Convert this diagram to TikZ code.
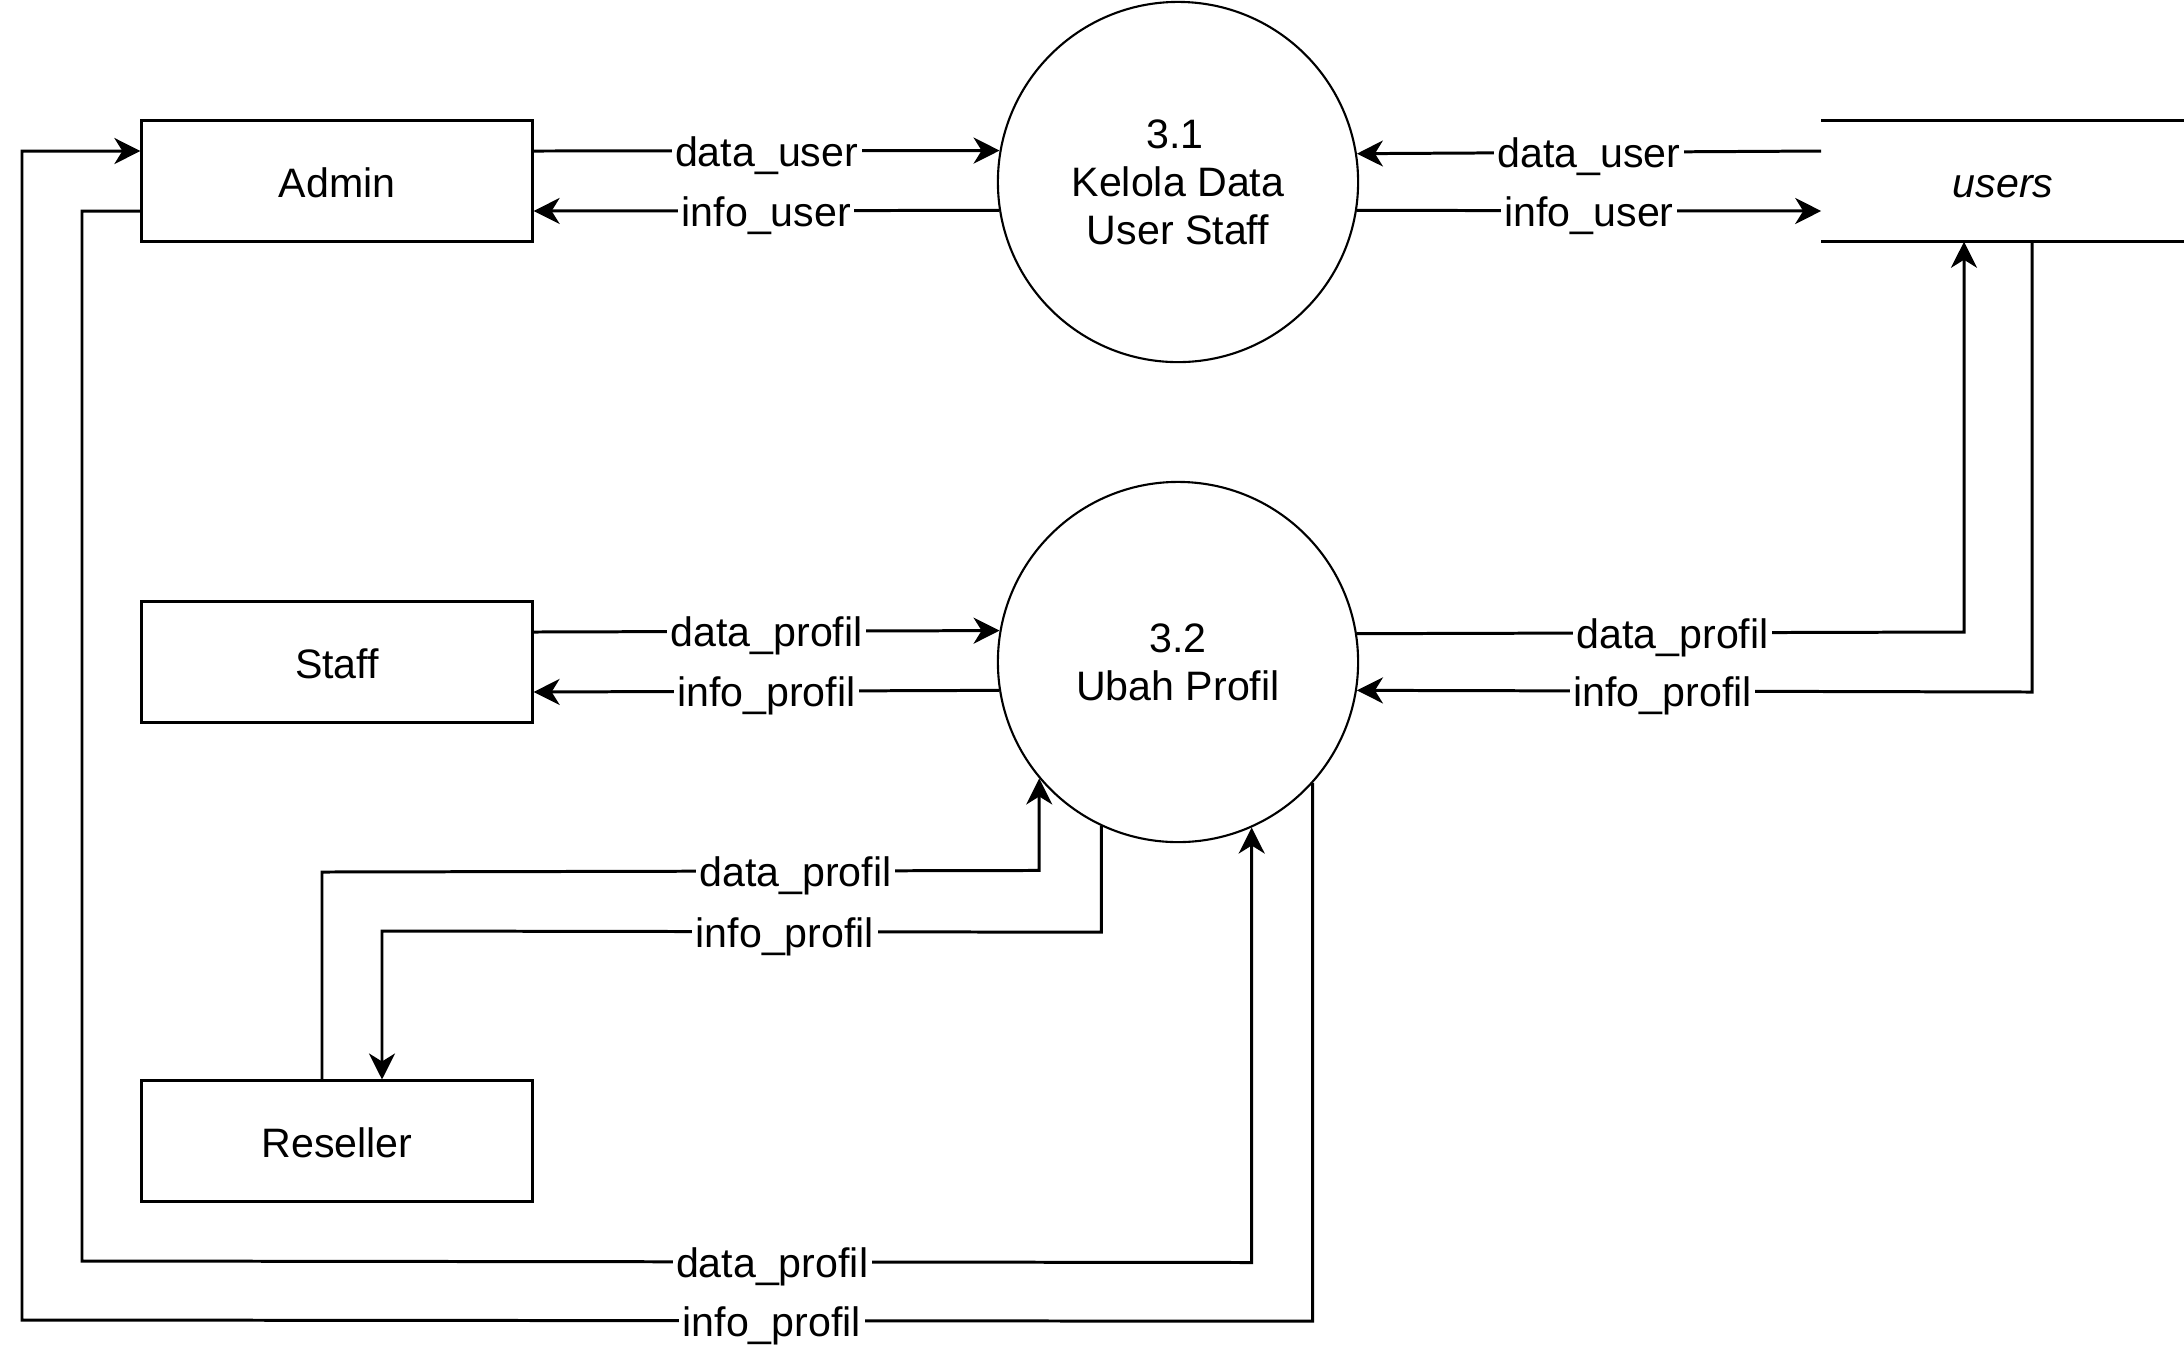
\documentclass[tikz,border=0pt]{standalone}
\usepackage{fontspec}
\setmainfont{Liberation Sans}
\usetikzlibrary{arrows.meta,calc}
\begin{document}
\begin{tikzpicture}[x=0.01cm,y=-0.01cm,
  every node/.style={font=\fontsize{11.7pt}{13.7pt}\selectfont},
  entity/.style={draw,line width=0.85pt,minimum width=3.9cm,minimum height=1.2cm,inner sep=0pt,text height=0.33cm,text depth=0pt},
  proc/.style={draw,circle,line width=0.6pt,minimum size=3.6cm,inner sep=0pt,align=center},
  store/.style={minimum width=3.62cm,minimum height=1.2cm,inner sep=0pt,text height=0.33cm,text depth=0pt},
  flow/.style={line width=0.85pt,-{Stealth[length=0.26cm,width=0.26cm,inset=0.08cm]}},
  plain/.style={line width=0.85pt},
  lbl/.style={fill=white,inner sep=1pt,text height=0.31cm,text depth=0pt}]
\useasboundingbox (0,0) rectangle (2184,1347);
% nodes
\node[entity] (admin) at (337,181) {Admin};
\node[entity] (staff) at (337,662) {Staff};
\node[entity] (reseller) at (337,1141) {Reseller};
\node[proc] (c31) at (1178,182) {3.1\hspace*{0.06cm}\\Kelola Data\hspace*{0.14cm}\\User Staff};
\node[proc] (c32) at (1178,662) {3.2\\Ubah Profil};
\node[store] (users) at (2003,181) {\itshape users};
\draw[plain] (users.north west) -- (users.north east);
\draw[plain] (users.south west) -- (users.south east);
% top row
\draw[flow] ($(admin.east)+(0,-30)$) -- node[lbl]{data\_user} (c31.170.41);
\draw[flow] (c31.189.59) -- node[lbl]{info\_user} ($(admin.east)+(0,30)$);
\draw[flow] ($(users.west)+(0,-30)$) -- node[lbl]{data\_user} (c31.9.59);
\draw[flow] (c31.-9.59) -- node[lbl]{info\_user} ($(users.west)+(0,30)$);
% staff
\draw[flow] ($(staff.east)+(0,-30)$) -- node[lbl]{data\_profil} (c32.170.41);
\draw[flow] (c32.189.59) -- node[lbl]{info\_profil} ($(staff.east)+(0,30)$);
% users <-> 3.2
\coordinate (ru1) at (1964,632);
\coordinate (ru2) at (2032,692);
\draw[flow] (c32.9.59) -- node[lbl,pos=0.52]{data\_profil} (ru1) -- (users.south -| ru1);
\draw[flow] (users.south -| ru2) -- (ru2) -- node[lbl,pos=0.547]{info\_profil} (c32.-9.59);
% reseller
\coordinate (rs1) at (322,872);
\coordinate (rs2) at (382,931);
\draw[flow] (reseller.north -| rs1) -- (rs1) -- node[lbl,pos=0.66]{data\_profil} ($(c32.220.9)+(0,92)$) -- (c32.220.9);
\draw[flow] (c32.245) -- ($(c32.245)+(0,106)$) -- node[lbl,pos=0.44]{info\_profil} (rs2) -- (reseller.north -| rs2);
% admin
\coordinate (ad1) at (82,1261);
\coordinate (ad2) at (22,1320);
\draw[flow] ($(admin.west)+(0,30)$) -| (ad1) -- node[lbl,pos=0.59]{data\_profil} ($(c32.294.3)+(0,435)$) -- (c32.294.3);
\draw[flow] (c32.318.2) -- ($(c32.318.2)+(0,538)$) -- node[lbl,pos=0.419]{info\_profil} (ad2) |- ($(admin.west)+(0,-30)$);
\end{tikzpicture}
\end{document}
